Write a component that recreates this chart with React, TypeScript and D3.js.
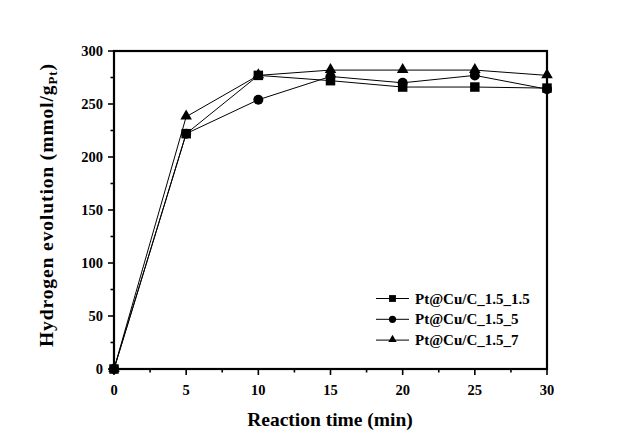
import React from "react";
import * as d3 from "d3";

const times = [0, 5, 10, 15, 20, 25, 30];
const seriesNames = ["Pt@Cu/C_1.5_1.5", "Pt@Cu/C_1.5_5", "Pt@Cu/C_1.5_7"];
const s1 = [0, 222, 277, 272, 266, 266, 265];
const s2 = [0, 222, 254, 276, 270, 277, 264];
const s3 = [0, 238, 277, 282, 282, 282, 277];
const xTicks = [0, 5, 10, 15, 20, 25, 30];
const yTicks = [0, 50, 100, 150, 200, 250, 300];

const W = 636, H = 443;
const L = 114, R = 547, T = 51, B = 369;
const FONT = "'Liberation Serif', 'Times New Roman', serif";

export default function App() {
  const x = d3.scaleLinear().domain([0, 30]).range([L, R]);
  const y = d3.scaleLinear().domain([0, 300]).range([B, T]);
  const line = d3.line<number>().x((_, i) => x(times[i])).y((d) => y(d));
  const all = [s1, s2, s3];
  const xMinor = d3.range(0, 30.01, 2.5).filter((v) => v % 5 !== 0);
  const yMinor = d3.range(0, 300.01, 25).filter((v) => v % 50 !== 0);

  const marker = (k: number, cx: number, cy: number, key: string, scale = 1) => {
    if (k === 0) {
      const d = d3.symbol(d3.symbolSquare, 90 * scale * scale)();
      return <path key={key} d={d!} transform={`translate(${cx},${cy})`} fill="#000" />;
    }
    if (k === 1) return <circle key={key} cx={cx} cy={cy} r={5 * scale} fill="#000" />;
    const d = d3.symbol(d3.symbolTriangle, 58 * scale * scale)();
    return <path key={key} d={d!} transform={`translate(${cx},${cy - 0.5})`} fill="#000" />;
  };

  return (
    <svg width={W} height={H} style={{ position: "absolute", left: 0, top: 0, background: "#fff" }}>
      <rect x={0} y={0} width={W} height={H} fill="#fff" />
      {all.map((s, k) => (
        <path key={"l" + k} d={line(s)!} fill="none" stroke="#000" strokeWidth={1} />
      ))}
      {all.map((s, k) => s.map((v, i) => marker(k, x(times[i]), y(v), `m${k}-${i}`)))}
      <rect x={L} y={T} width={R - L} height={B - T} fill="none" stroke="#000" strokeWidth={2.2} />
      {xTicks.map((t) => (
        <g key={"xt" + t}>
          <line x1={x(t)} x2={x(t)} y1={B} y2={B + 6} stroke="#000" strokeWidth={1.6} />
          <text x={x(t)} y={395} textAnchor="middle" fontFamily={FONT} fontWeight="bold" fontSize={14.5}>{t}</text>
        </g>
      ))}
      {xMinor.map((t) => (
        <line key={"xm" + t} x1={x(t)} x2={x(t)} y1={B} y2={B + 3.5} stroke="#000" strokeWidth={1.6} />
      ))}
      {yTicks.map((t) => (
        <g key={"yt" + t}>
          <line x1={L - 6} x2={L} y1={y(t)} y2={y(t)} stroke="#000" strokeWidth={1.6} />
          <text x={103} y={y(t) + 5} textAnchor="end" fontFamily={FONT} fontWeight="bold" fontSize={14.5}>{t}</text>
        </g>
      ))}
      {yMinor.map((t) => (
        <line key={"ym" + t} x1={L - 3.5} x2={L} y1={y(t)} y2={y(t)} stroke="#000" strokeWidth={1.6} />
      ))}
      <text x={330} y={426} textAnchor="middle" fontFamily={FONT} fontWeight="bold" fontSize={19.5}>Reaction time (min)</text>
      <text transform={`translate(53,205) rotate(-90)`} textAnchor="middle" fontFamily={FONT} fontWeight="bold" fontSize={19.5} letterSpacing={0.9}>
        Hydrogen evolution (mmol/g<tspan fontSize={13} dy={4}>Pt</tspan><tspan dy={-4}>)</tspan>
      </text>
      {seriesNames.map((n, k) => {
        const ly = 298.5 + k * 20.8;
        return (
          <g key={"lg" + k}>
            <line x1={376} x2={409} y1={ly} y2={ly} stroke="#000" strokeWidth={1} />
            {marker(k, 392.5, ly, "lm" + k, 0.72)}
            <text x={415} y={ly + 5} fontFamily={FONT} fontWeight="bold" fontSize={15}>{n}</text>
          </g>
        );
      })}
    </svg>
  );
}
